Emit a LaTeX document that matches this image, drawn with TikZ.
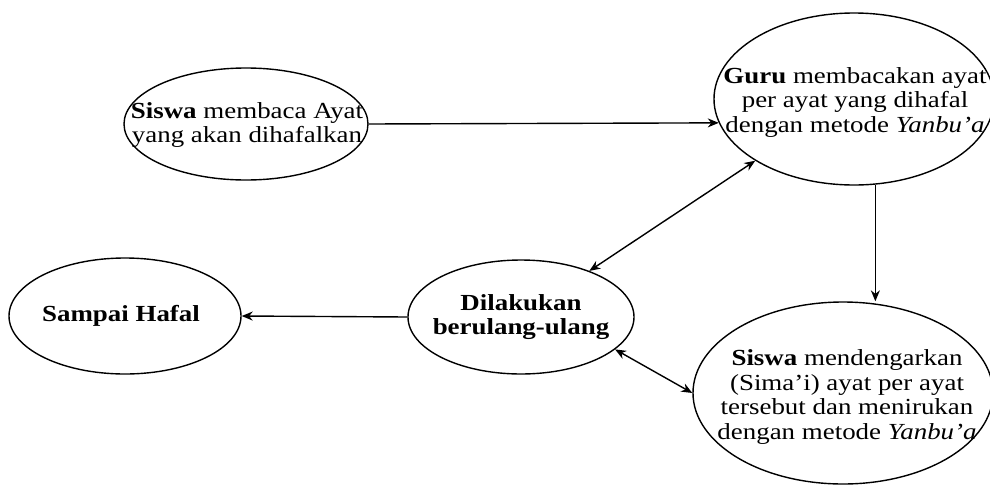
\documentclass[tikz,border=0pt]{standalone}
\usepackage{fontspec}
\setmainfont{Liberation Serif}[FakeStretch=1.17]
\usetikzlibrary{shapes.geometric,arrows.meta}

\begin{document}
\begin{tikzpicture}[x=1pt, y=-1pt, line width=1.4pt,
  oval/.style={draw, ellipse, inner sep=0pt},
  txt/.style={align=center, inner sep=0pt, font=\fontsize{23}{24.5}\selectfont},
  arr/.style={-{Stealth[length=11pt,width=9pt]}},
  dblarr/.style={{Stealth[length=11pt,width=9pt]}-{Stealth[length=11pt,width=9pt]}}]
  \useasboundingbox (0,0) rectangle (990,485);
  % ellipses
  \node[oval, minimum width=244pt, minimum height=112pt] (siswa) at (246,124) {};
  \node[oval, minimum width=280pt, minimum height=172pt] (guru) at (854,99) {};
  \node[oval, minimum width=300pt, minimum height=182pt] (dengar) at (843,393) {};
  \node[oval, minimum width=226pt, minimum height=114pt] (ulang) at (521,317) {};
  \node[oval, minimum width=232pt, minimum height=116pt] (hafal) at (125,316) {};
  % texts
  \node[txt] (siswa-t) at (247,125) {\textbf{Siswa} membaca Ayat\\yang akan dihafalkan};
  \node[txt] (guru-t) at (855,102) {\textbf{Guru} membacakan ayat\\per ayat yang dihafal\\dengan metode \textit{Yanbu'a}};
  \node[txt] (dengar-t) at (847,397) {\textbf{Siswa} mendengarkan\\(Sima’i) ayat per ayat\\tersebut dan menirukan\\dengan metode \textit{Yanbu'a}};
  \node[txt] (ulang-t) at (521,317) {\textbf{Dilakukan}\\\textbf{berulang-ulang}};
  \node[txt] (hafal-t) at (121,316) {\textbf{Sampai Hafal}};
  % connectors
  \draw[arr] (siswa.east) -- (guru.190);
  \draw[arr] (guru.-76) -- (guru.-76 |- dengar.north);
  \draw[dblarr] (ulang.34) -- (guru.212);
  \draw[dblarr] (ulang.-19) -- (dengar.west);
  \draw[arr] (ulang.west) -- (hafal.east);
\end{tikzpicture}
\end{document}
